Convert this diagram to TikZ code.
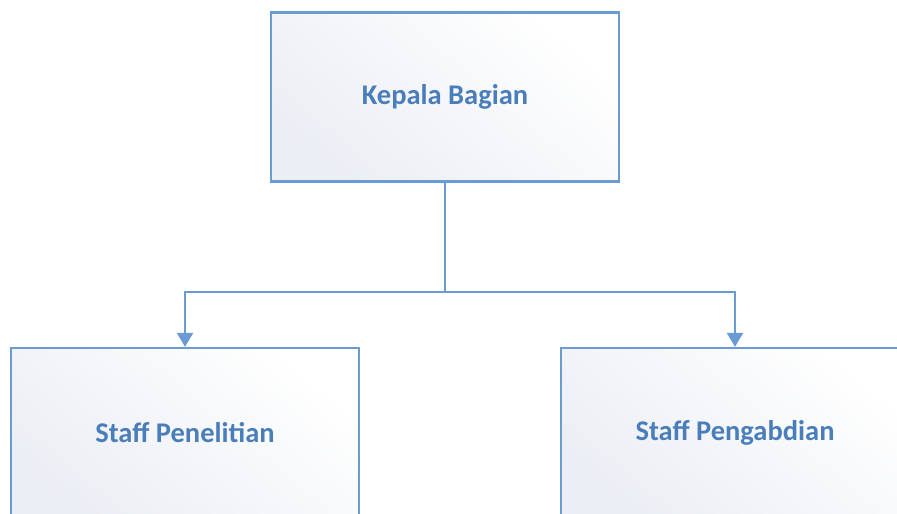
\documentclass[tikz,border=0pt]{standalone}
\usepackage{fontspec}
\setmainfont{Carlito}
\usetikzlibrary{arrows.meta}
\definecolor{edgeblue}{HTML}{6A9BD3}
\definecolor{textblue}{HTML}{4A7EBB}
\definecolor{shadegray}{HTML}{EBEEF4}
\tikzset{
  unitbox/.style={draw=edgeblue, line width=2.2pt, rectangle,
    left color=shadegray, right color=white, shading angle=140,
    minimum width=348pt, minimum height=169pt, inner sep=0pt,
    text=textblue, font=\fontsize{28.5}{32}\selectfont\bfseries},
  link/.style={draw=edgeblue, line width=2.2pt},
  tip/.style={-{Triangle[length=14pt,width=16pt]}}
}
\begin{document}
\begin{tikzpicture}[x=1pt,y=-1pt]
  \useasboundingbox (0,0) rectangle (897,514);
  \clip (0,0) rectangle (897,514);
  \node[unitbox] (kepala) at (445,97) {Kepala Bagian};
  \node[unitbox] (penelitian) at (185,432.5) {Staff Penelitian};
  \node[unitbox] (pengabdian) at (735,432.5) {Staff Pengabdian};
  \coordinate (split) at (445,292);
  \draw[link] (kepala.south) -- (split);
  \draw[link, tip] (split) -| (penelitian.north);
  \draw[link, tip] (split) -| (pengabdian.north);
\end{tikzpicture}
\end{document}
